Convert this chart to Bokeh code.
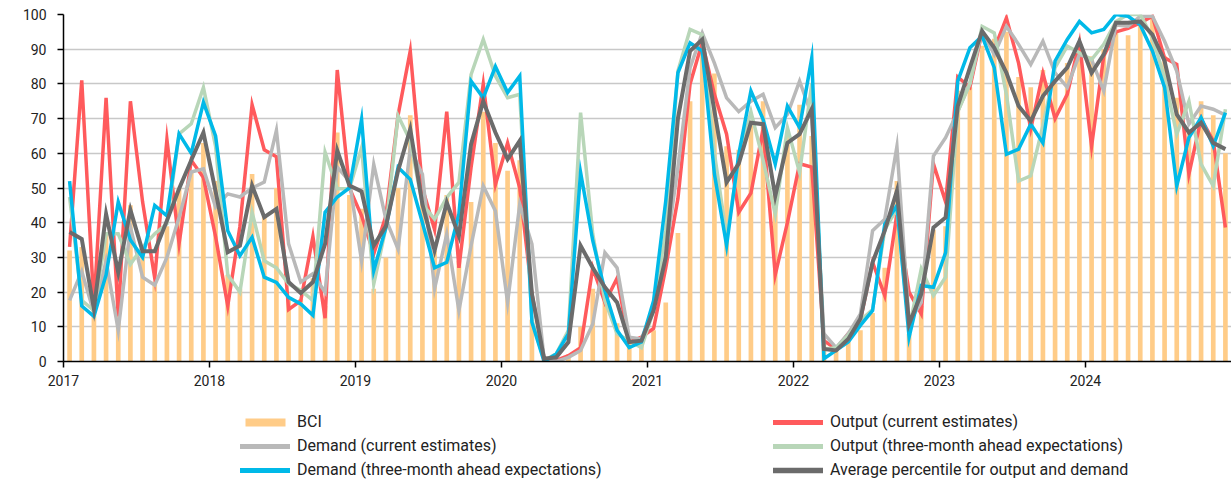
import numpy as np
from bokeh.plotting import figure
from bokeh.layouts import column
from bokeh.models import ColumnDataSource, Legend, FixedTicker, Range1d
from bokeh.embed import file_html
from bokeh.resources import INLINE

# ---------------- data ----------------
years = [2017, 2018, 2019, 2020, 2021, 2022, 2023, 2024]
tick_labels = ["2017", "2018", "2019", "2020", "2021", "2022", "2023", "2024"]

bci = [
    32, 33, 17, 37, 20, 45, 32, 23, 39, 50, 55, 63,
    52, 25, 21, 54, 42, 50, 18, 18, 24, 16, 66, 48,
    44, 21, 30, 50, 71, 51, 32, 48, 29, 46, 72, 63,
    55, 58, 12, 0.5, 0.5, 2, 10, 21, 18, 11, 6, 6,
    9, 17, 37, 75, 90, 83, 62, 61, 69, 75, 48, 65,
    74, 65, 5, 3, 7.5, 9, 14, 27, 52, 8, 16, 38,
    39, 78, 79, 91, 93, 95, 82, 79, 84, 80, 86, 89,
    88, 90, 95, 94, 98, 99, 88, 76, 66, 75, 71, 60,
]
output_current = [
    33, 81, 16, 76, 13, 75, 46, 24, 64, 34, 58, 53,
    36, 16, 39, 74, 61, 59, 15, 17.5, 36, 12.5, 84, 50,
    42, 31, 42, 71, 89.5, 50, 38, 72, 27, 56, 80, 51,
    63, 50, 19.5, 1, 0.3, 1.7, 4, 27, 17, 24, 5.6, 7,
    9.5, 27, 47, 80, 92, 77, 65.5, 43, 48.5, 67, 25, 40,
    57, 56, 6, 3.6, 8, 12, 28.6, 19, 42.5, 20, 13.7, 57,
    46, 82, 79, 95, 90, 99, 86, 67, 83, 70, 77, 92,
    62, 88, 95, 96, 97.6, 99.5, 87.5, 85.6, 54, 70, 63.6, 38.6,
]
demand_current = [
    17.6, 26, 14, 29, 9, 38.7, 24.3, 22, 30, 41.6, 54.6, 55.5,
    44.5, 48.3, 47.4, 50, 51.7, 66.6, 33.9, 22.9, 25.3, 20, 56, 52,
    29, 56.8, 41, 32.4, 61.2, 54, 21, 36.7, 14.7, 33.4, 50.6, 43.4,
    17, 45.3, 33.8, 0.8, 0, 1.2, 3.2, 10.8, 31.4, 27, 7, 6.5,
    15.6, 31, 56, 84.7, 94.7, 86, 76, 72, 75, 77, 67.4, 71.2,
    80.8, 71, 8, 4, 8, 13.7, 37.7, 41, 62, 11.3, 17, 59.2,
    64.5, 72, 80.3, 95.2, 88.5, 96.6, 91.4, 85.6, 92.3, 83.2, 79, 88.5,
    87, 78, 97, 96.6, 99.5, 99.5, 92.3, 83.7, 68.4, 73.6, 72.7, 71,
]
output_3m = [
    47.4, 17.6, 14.7, 36.8, 36.8, 28, 33, 36.8, 39.7, 65.6, 68.5, 79,
    62, 25, 20, 43, 29, 27, 22.4, 20.5, 17.6, 60.3, 49.8, 49.8,
    61.6, 22.3, 38.6, 70.8, 63.6, 45.3, 41, 47.3, 51.6, 82.7, 92.8, 82.3,
    76, 77, 11.8, 0.3, 2.2, 9, 71.7, 36.7, 17.5, 8, 6, 4,
    14.7, 37.7, 83.7, 95.7, 94.2, 60, 36, 58, 72, 58, 42.5, 67.4,
    54.5, 80, 3.6, 4, 7.5, 11.8, 15, 38, 44, 9.4, 26.7, 19,
    24.3, 72, 80, 96.6, 94.7, 77, 52, 53.5, 68, 84.7, 90.9, 89,
    87, 91.4, 98, 100, 100, 93.3, 81.8, 65.5, 75, 56.9, 50.6, 72.7,
]
demand_3m = [
    52, 16, 13, 25, 46, 35, 30, 45, 42, 65.6, 60, 74.7,
    65, 37.7, 30.5, 35.8, 24.3, 22.8, 18.5, 16.6, 13.3, 43, 47.4, 50,
    69.8, 26.2, 38.6, 56, 52.5, 40, 27, 28.6, 42.5, 80.8, 76, 85,
    77.5, 82.3, 11.3, 0, 2.2, 8, 54.5, 34.8, 20.4, 9, 4, 5.6,
    17.5, 46.3, 83.2, 91.8, 89.5, 54, 33.4, 59.7, 78, 69.8, 56.9, 73.6,
    67.4, 87.5, 0.8, 3.2, 5.6, 10.4, 14.7, 39.6, 44.9, 7, 21.9, 21.4,
    31.4, 80.8, 90.4, 93.8, 84.7, 59.7, 61.2, 68.4, 63, 86.6, 92.8, 98,
    94.7, 95.7, 100, 99.5, 97, 89.5, 79, 50.6, 64.5, 70.3, 62.1, 71.7,
]
average = [
    37.3, 35.3, 15.2, 42.5, 25.7, 43.7, 31.8, 31.8, 40.6, 49.8, 58, 66,
    49, 31.5, 33.4, 50.7, 41.6, 44, 22.9, 19.7, 22.9, 33.9, 60.8, 50.7,
    49, 33.4, 39, 55, 67, 45.3, 32, 45.8, 36.2, 62.6, 75, 66,
    58.3, 63.6, 19.5, 0.8, 1.2, 5.6, 33.4, 27, 21.4, 17, 5.6, 6,
    14.7, 30, 70, 89.5, 92.8, 72.2, 51.6, 57, 68.8, 68.4, 47.7, 63,
    65.5, 72.7, 3.6, 3.2, 6.5, 12.3, 28.6, 37.7, 49.2, 10.8, 19.5, 38.6,
    41.5, 73.6, 84.7, 95.2, 90.4, 83.2, 73.6, 69.3, 76.5, 80.8, 84.7, 92.3,
    83.2, 88.5, 97.6, 97.6, 98, 94.2, 86.6, 71.2, 66, 68.8, 63, 61.2,
]

series_names = [
    "BCI",
    "Output (current estimates)",
    "Demand (current estimates)",
    "Output (three-month ahead expectations)",
    "Demand (three-month ahead expectations)",
    "Average percentile for output and demand",
]

# month midpoints as decimal years
x = [y + (m + 0.5) / 12.0 for y in years for m in range(12)]

src = ColumnDataSource(dict(
    x=x, bci=bci, out_cur=output_current, dem_cur=demand_current,
    out_3m=output_3m, dem_3m=demand_3m, avg=average,
))

FONT = "Roboto"
BAR_COLOR = "#FFCC88"
LINE_STYLES = [
    ("out_cur", "#FF5A5C", 3.5),
    ("dem_cur", "#B9B9B9", 3.5),
    ("out_3m", "#B8D6B8", 3.5),
    ("dem_3m", "#00B9E8", 3.5),
    ("avg", "#6B6B6B", 4.0),
]
BAR_W = 0.032

# ---------------- main chart ----------------
p = figure(
    width=1231, height=400,
    output_backend="svg", toolbar_location=None,
    x_range=Range1d(2017, 2025), y_range=Range1d(0, 100),
    min_border_left=63, min_border_right=0, min_border_top=14, min_border_bottom=39,
)
p.outline_line_color = None
p.background_fill_color = "white"

p.vbar(x="x", top="bci", width=BAR_W, source=src, fill_color=BAR_COLOR, line_color=None)
for col, color, w in LINE_STYLES:
    p.line("x", col, source=src, line_color=color, line_width=w, line_join="miter")

p.xaxis.ticker = FixedTicker(ticks=years)
p.xaxis.major_label_overrides = {y: l for y, l in zip(years, tick_labels)}
p.yaxis.ticker = FixedTicker(ticks=list(range(0, 101, 10)))
for ax in (p.xaxis, p.yaxis):
    ax.axis_line_color = "black"
    ax.axis_line_width = 1.5
    ax.major_tick_line_color = "black"
    ax.major_tick_line_width = 1.5
    ax.major_tick_in = 0
    ax.major_tick_out = 6
    ax.minor_tick_line_color = None
    ax.major_label_text_font = FONT
    ax.major_label_text_font_size = "14px"
    ax.major_label_text_color = "#222222"
p.xaxis.major_label_standoff = 7
p.yaxis.major_label_standoff = 11

p.xgrid.grid_line_color = None
p.ygrid.grid_line_color = "#C8C8C8"
p.ygrid.grid_line_width = 1.5

# ---------------- legend strip ----------------
# Same data drawn again, but with ranges that keep it out of view:
# only the legend swatches of these renderers are visible.
lg = figure(
    width=1231, height=79,
    output_backend="svg", toolbar_location=None,
    x_range=Range1d(0, 1), y_range=Range1d(-1000, -999),
    x_axis_location=None, y_axis_location=None, min_border=0,
)
lg.outline_line_color = None
lg.xgrid.grid_line_color = None
lg.ygrid.grid_line_color = None

renderers = [lg.vbar(x="x", top="bci", width=BAR_W, source=src,
                     fill_color=BAR_COLOR, line_color=None)]
for col, color, w in LINE_STYLES:
    renderers.append(lg.line("x", col, source=src, line_color=color,
                             line_width=w + 1.5, line_cap="round"))

legend = Legend(
    items=[(name, [r]) for name, r in zip(series_names, renderers)],
    location=(177, 0),
    orientation="horizontal",
    ncols=2,
    label_width=471,
    glyph_width=50,
    glyph_height=10,
    label_height=18,
    spacing=5,
    padding=0,
    margin=0,
    label_standoff=7,
    border_line_color=None,
    background_fill_alpha=0,
    label_text_font=FONT,
    label_text_font_size="16px",
    label_text_color="#222222",
)
lg.add_layout(legend)

layout = column(p, lg, spacing=0)
open("out.html", "w").write(file_html(layout, INLINE))
